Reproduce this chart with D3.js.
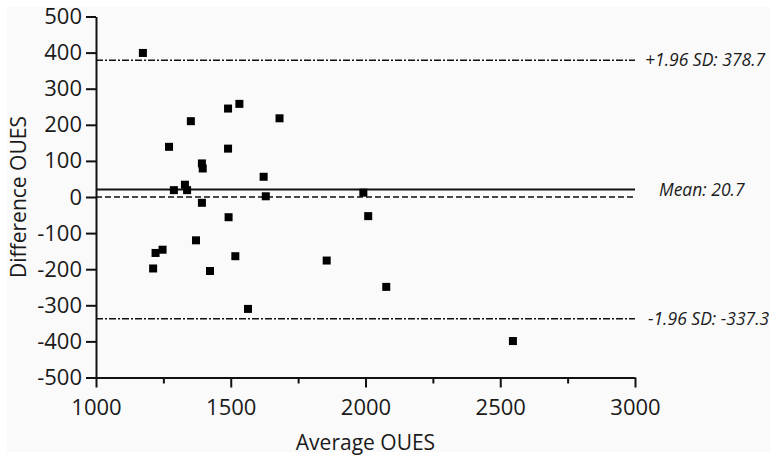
<!DOCTYPE html>
<html>
<head>
<meta charset="utf-8">
<script src="https://cdn.jsdelivr.net/npm/d3@7"></script>
<style>
  body { margin: 0; background: #ffffff; }
  text { font-family: "Open Sans", "Noto Sans", sans-serif; fill: #1a1a1a; }
</style>
</head>
<body>
<div id="chart"></div>
<script>
// averages and differences
const avgOues = [1174, 1271, 1352, 1490, 1532, 1490, 1393, 1396, 1289, 1330, 1338,
    1681, 1622, 1630, 1393, 1492, 1212, 1221, 1247, 1371, 1423, 1517, 1564,
    1856, 1992, 2010, 2077, 2547];
const diffOues = [399, 139, 210, 245, 258, 134, 93, 79, 19, 34, 19,
    218, 56, 2, -16, -56, -198, -155, -146, -120, -205, -164, -310,
    -176, 12, -53, -249, -399];
const xTicks = [1000, 1500, 2000, 2500, 3000];
const xMinorTicks = [1250, 1750, 2250, 2750];
const yTicks = [500, 400, 300, 200, 100, 0, -100, -200, -300, -400, -500];
const refLines = [
    { name: 'upper', value: 378.7, label: '+1.96 SD: 378.7', dash: '7,2,2,2' },
    { name: 'mean', value: 20.7, label: 'Mean: 20.7', dash: null },
    { name: 'zero', value: 0, label: null, dash: '6,3' },
    { name: 'lower', value: -337.3, label: '-1.96 SD: -337.3', dash: '7,2,2,2' }
];

const width = 776;
const height = 457;
const margin = { top: 16.5, right: 141, bottom: 79.5, left: 96 };

const svg = d3.select('#chart')
    .append('svg')
    .attr('width', width)
    .attr('height', height);

svg.append('rect')
    .attr('x', 7)
    .attr('y', 7)
    .attr('width', 763)
    .attr('height', 445)
    .attr('fill', '#fafafa');

const x = d3.scaleLinear()
    .domain([1000, 3000])
    .range([margin.left, width - margin.right]);

const y = d3.scaleLinear()
    .domain([-500, 500])
    .range([height - margin.bottom, margin.top]);

const plain = (d) => String(d);

// axes
const xAxis = svg.append('g')
    .attr('transform', `translate(0,${y(-500)})`)
    .call(d3.axisBottom(x).tickValues(xTicks).tickFormat(plain)
        .tickSize(10).tickPadding(12).tickSizeOuter(0));

svg.append('g')
    .attr('transform', `translate(0,${y(-500)})`)
    .call(d3.axisBottom(x).tickValues(xMinorTicks).tickSize(6).tickFormat('').tickSizeOuter(0))
    .select('.domain').remove();

const yAxis = svg.append('g')
    .attr('transform', `translate(${x(1000)},0)`)
    .call(d3.axisLeft(y).tickValues(yTicks).tickFormat(plain)
        .tickSize(10).tickPadding(4).tickSizeOuter(0));

svg.selectAll('.tick line, .domain')
    .attr('stroke', '#111')
    .attr('stroke-width', 2);

svg.selectAll('.tick text')
    .attr('font-size', 22)
    .attr('fill', '#1a1a1a')
    .style('font-family', '"Open Sans", sans-serif');

// reference lines
svg.selectAll('line.ref')
    .data(refLines)
    .enter().append('line')
    .attr('class', 'ref')
    .attr('x1', x(1000))
    .attr('x2', x(3000))
    .attr('y1', (d) => y(d.value))
    .attr('y2', (d) => y(d.value))
    .attr('stroke', '#111')
    .attr('stroke-width', (d) => d.dash ? 1.6 : 2)
    .attr('stroke-dasharray', (d) => d.dash);

const labelX = { upper: 645, mean: 659, lower: 648 };
svg.selectAll('text.ref-label')
    .data(refLines.filter((d) => d.label))
    .enter().append('text')
    .attr('class', 'ref-label')
    .attr('x', (d) => labelX[d.name])
    .attr('y', (d) => y(d.value) + 6)
    .attr('font-size', 17.5)
    .attr('font-style', 'italic')
    .text((d) => d.label);

// points
svg.selectAll('rect.pt')
    .data(avgOues.map((a, i) => [a, diffOues[i]]))
    .enter().append('rect')
    .attr('class', 'pt')
    .attr('x', (d) => x(d[0]) - 4)
    .attr('y', (d) => y(d[1]) - 4)
    .attr('width', 8)
    .attr('height', 8)
    .attr('fill', '#000');

// axis titles
svg.append('text')
    .attr('x', (x(1000) + x(3000)) / 2)
    .attr('y', 450)
    .attr('text-anchor', 'middle')
    .attr('font-size', 21)
    .text('Average OUES');

svg.append('text')
    .attr('transform', `translate(26,${(y(500) + y(-500)) / 2}) rotate(-90)`)
    .attr('text-anchor', 'middle')
    .attr('font-size', 21)
    .text('Difference OUES');
</script>
</body>
</html>
